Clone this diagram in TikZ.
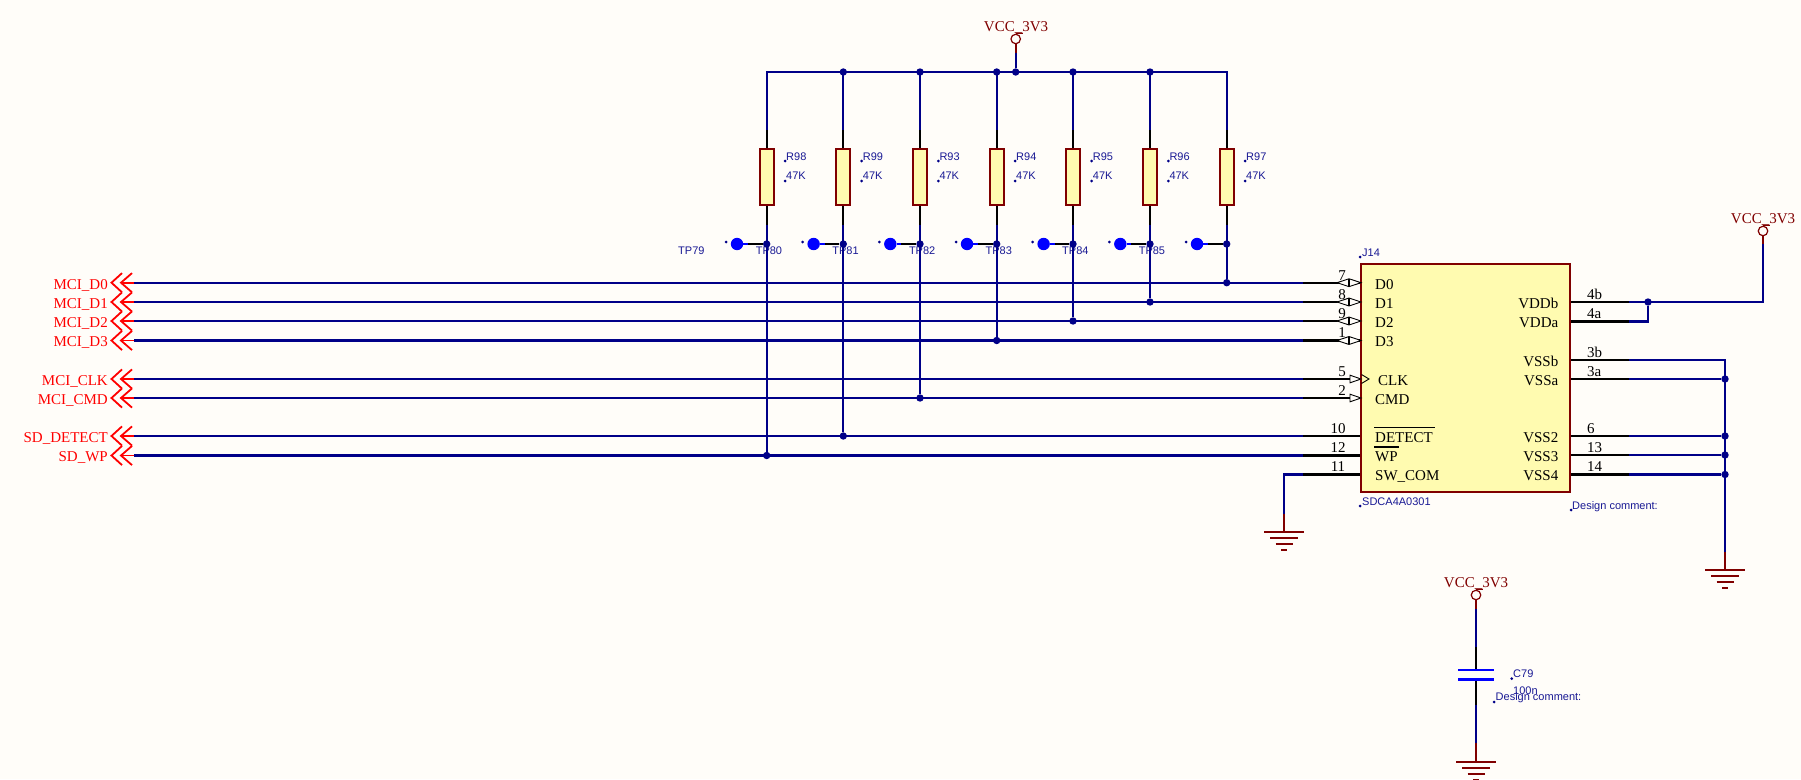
\documentclass[tikz,border=0pt]{standalone}
\usepackage{fontspec}
\setmainfont{Liberation Serif}
\newfontfamily\lblfont{Liberation Sans}
\definecolor{bgc}{HTML}{FFFDF9}
\definecolor{wirec}{HTML}{000088}
\definecolor{darkred}{HTML}{800000}
\definecolor{bodyc}{HTML}{FFFBB0}
\definecolor{brightb}{HTML}{0000FF}
\tikzset{
  wire/.style={draw=wirec,line width=2.2pt,line cap=butt,line join=miter},
  lead/.style={draw=black,line width=2.1pt},
  redlead/.style={draw=darkred,line width=2.1pt},
  junction/.style={circle,fill=wirec,draw=none,minimum size=7.4pt,inner sep=0pt},
  resbody/.style={draw=darkred,fill=bodyc,line width=2pt,minimum width=14.2pt,minimum height=56pt,inner sep=0pt},
  chip/.style={draw=darkred,fill=bodyc,line width=2.1pt,minimum width=209pt,minimum height=228pt,inner sep=0pt},
  sertxt/.style={font=\fontsize{15}{15}\selectfont,inner sep=0pt},
  pintxt/.style={sertxt,anchor=base west},
  pinnum/.style={sertxt,anchor=base},
  rpinnum/.style={sertxt,anchor=base west},
  pintxtr/.style={sertxt,anchor=base east},
  netport/.style={sertxt,text=red,anchor=base east},
  vcctxt/.style={sertxt,text=darkred,anchor=base},
  lbl/.style={font=\lblfont\fontsize{11}{11}\selectfont,text=wirec!90!white,inner sep=0pt,anchor=base west},
  ldot/.style={circle,fill=wirec,draw=none,minimum size=3pt,inner sep=0pt},
  tpdot/.style={circle,fill=brightb,draw=none,minimum size=12.4pt,inner sep=0pt},
  pinarrow/.style={draw=black,fill=bgc,line width=0.9pt,line join=miter},
  vccring/.style={circle,draw=darkred,line width=1.2pt,minimum size=9.5pt,inner sep=0pt},
  gndline/.style={draw=darkred,line width=2pt},
  plate/.style={draw=brightb,line width=2.2pt}
}
\newcommand{\gndsym}[1]{%
  \draw[gndline] ([xshift=-20pt]#1) -- ([xshift=20pt]#1);
  \draw[gndline] ([xshift=-14pt,yshift=-6pt]#1) -- ([xshift=14pt,yshift=-6pt]#1);
  \draw[gndline] ([xshift=-8.5pt,yshift=-12pt]#1) -- ([xshift=8.5pt,yshift=-12pt]#1);
  \draw[gndline] ([xshift=-2.7pt,yshift=-17.5pt]#1) -- ([xshift=2.7pt,yshift=-17.5pt]#1);
}
\begin{document}
\begin{tikzpicture}[x=1pt,y=-1pt]
\useasboundingbox (0,0) rectangle (1801,779);
\fill[bgc] (0,0) rectangle (1801,779);
\clip (0,0) rectangle (1801,779);

% test point labels lie below the wires
\foreach \n/\x in {79/678,80/755.6,81/832.2,82/908.8,83/985.4,84/1062,85/1138.6}
  \node[lbl] (tplabel\n) at (\x,254) {TP\n};

% rail
\coordinate (railL) at (766.7,72);
\coordinate (railR) at (1226.7,72);
\draw[wire] (766.7,130) -- (railL) -- (railR) -- (1226.7,130);

% VCC top
\node[vcctxt] (vcctop) at (1016,31) {VCC\_3V3};
\node[vccring] (ringtop) at (1015.7,39) {};
\coordinate (vtopred) at (1015.7,53);
\node[junction] (jtop) at (1015.7,72) {};
\draw[redlead] (ringtop.south) -- (vtopred);
\draw[wire] (vtopred) -- (jtop);
\draw[darkred,line width=1.1pt] (ringtop.north) -- ++(7,0);

% signal wires and their ports
\foreach \n/\y/\t/\r in {D0/282.7/MCI\_D0/289.2,D1/302/MCI\_D1/308.2,D2/321/MCI\_D2/327.2,D3/340.5/MCI\_D3/346.7,CLK/379/MCI\_CLK/385.2,CMD/398/MCI\_CMD/404.2,DET/436/SD\_DETECT/442.2,WP/455.5/SD\_WP/461.7}{
  \node[netport] (port\n) at (108,\r) {\t};
  \coordinate (tip\n) at (121,\y);
  \coordinate (sig\n) at (134,\y);
  \coordinate (stub\n) at (1303,\y);
  \coordinate (pin\n) at (1361,\y);
  \draw[wire] (sig\n) -- (stub\n);
  \draw[lead] (stub\n) -- (pin\n);
  \draw[red,line width=1.8pt] (tip\n) -- (sig\n);
  \draw[red,line width=1.8pt,line join=miter] (122,\y-9.6) -- (111.5,\y) -- (122,\y+9.6);
  \draw[red,line width=1.8pt,line join=miter] (132,\y-9.6) -- (tip\n) -- (132,\y+9.6);
}

% resistors with test points
\foreach \r/\x/\sy/\tx/\lo in {98/766.7/455.5/737/785,99/843.3/436/813.6/861.7,93/920/398/890.3/938.3,94/996.7/340.5/967/1015,95/1073/321/1043.6/1091.7,96/1150/302/1120.3/1168.3,97/1226.7/282.7/1197/1245}{
  \coordinate (rtop\r) at (\x,130);
  \coordinate (rbot\r) at (\x,225);
  \node[resbody] (res\r) at (\x,176.8) {};
  \node[junction] (jtp\r) at (\x,244) {};
  \node[junction] (jsig\r) at (\x,\sy) {};
  \draw[wire] (\x,72) -- (rtop\r);
  \draw[lead] (rtop\r) -- (res\r.north);
  \draw[lead] (res\r.south) -- (rbot\r);
  \draw[wire] (rbot\r) -- (jsig\r);
  \node[tpdot] (tp\r) at (\tx,244) {};
  \node[ldot] (tpd\r) at (\tx-11,242) {};
  \coordinate (tpst\r) at (\tx+11,244);
  \draw[brightb,line width=2pt] (tp\r) -- (tpst\r);
  \draw[lead] (tpst\r) -- (jtp\r);
  \node[ldot] (rdA\r) at (\lo,161) {};
  \node[ldot] (rdB\r) at (\lo,181) {};
  \node[lbl] (rname\r) at (\lo+1,160.7) {R\r};
  \node[lbl] (rval\r) at (\lo+1,179.7) {47K};
}
\foreach \r/\x in {99/843.3,93/920,94/996.7,95/1073,96/1150}
  \node[junction] (jrail\r) at (\x,72) {};

% connector J14
\node[chip] (J14) at (1465.5,378) {};
\node[ldot] (dJ) at (1360,257) {};
\node[lbl] (nJ) at (1362,256) {J14};
\node[ldot] (dS) at (1360,506) {};
\node[lbl] (nS) at (1362,505) {SDCA4A0301};
\node[ldot] (dC) at (1571,510) {};
\node[lbl] (nC) at (1572,509) {Design comment:};

% bidirectional pin markers
\foreach \n/\y in {D0/282.7,D1/302,D2/321,D3/340.5}{
  \draw[pinarrow] (1349.5,\y-3.8) -- (pin\n) -- (1349.5,\y+3.8) -- cycle;
  \draw[pinarrow] (1348.5,\y-3.8) -- (1337,\y) -- (1348.5,\y+3.8) -- cycle;
}
\foreach \n/\y in {CLK/379,CMD/398}
  \draw[pinarrow] (1350,\y-3.8) -- (pin\n) -- (1350,\y+3.8) -- cycle;
\draw[black,line width=0.9pt,line join=miter] (1361.5,374.5) -- (1369,379) -- (1361.5,383.5);

% pin numbers and names, left
\foreach \t/\x/\y in {7/1342/280,8/1342/299,9/1342/318,1/1342/337.5,5/1342/376,2/1342/395,10/1338/433,12/1338/452.5,11/1338/471.5}
  \node[pinnum] (num\t) at (\x,\y) {\t};
\foreach \t/\x/\y in {D0/1375/289.2,D1/1375/308.2,D2/1375/327.2,D3/1375/346.7,CLK/1378/385.2,CMD/1375/404.2,DETECT/1375/442.2,WP/1375/461.7,SW\_COM/1375/480.7}
  \node[pintxt] at (\x,\y) {\t};
\draw[black,line width=1.4pt] (1374,427.7) -- (1435,427.7);
\draw[black,line width=1.4pt] (1374,447) -- (1399,447);

% SW_COM pin to ground
\coordinate (stubSW) at (1303,474.5);
\coordinate (cornerSW) at (1284,474.5);
\coordinate (gndLred) at (1284,514);
\coordinate (gndL) at (1284,532);
\draw[lead] (J14.west |- stubSW) -- (stubSW);
\draw[wire] (stubSW) -- (cornerSW) -- (gndLred);
\draw[redlead] (gndLred) -- (gndL);
\gndsym{gndL}

% right pins
\foreach \c/\y in {Vb/302,Va/321.5,Sb/360,Sa/379,S2/436,S3/455,S4/474.5}{
  \coordinate (rstub\c) at (1629,\y);
  \draw[lead] (J14.east |- rstub\c) -- (rstub\c);
}
\foreach \t/\y in {4b/299,4a/318.5,3b/357,3a/376,6/433,13/452,14/471.5}
  \node[rpinnum] (rnum\t) at (1587,\y) {\t};
\foreach \t/\y in {VDDb/308.2,VDDa/327.7,VSSb/366.2,VSSa/385.2,VSS2/442.2,VSS3/461.2,VSS4/480.7}
  \node[pintxtr] at (1558.5,\y) {\t};

% power net
\node[junction] (jV) at (1648,302) {};
\coordinate (vcR) at (1763,302);
\coordinate (vcRred) at (1763,244);
\draw[wire] (rstubVb) -- (vcR) -- (vcRred);
\draw[wire] (rstubVa) -- (1648,321.5) -- (jV);
\node[vccring] (ringR) at (1763,231) {};
\draw[redlead] (ringR.south) -- (vcRred);
\draw[darkred,line width=1.1pt] (ringR.north) -- ++(7,0);
\node[vcctxt] (vccR) at (1763,223) {VCC\_3V3};

% ground net
\coordinate (gndRtop) at (1725,360);
\coordinate (gndRred) at (1725,552);
\coordinate (gndR) at (1725,570);
\draw[wire] (rstubSb) -- (gndRtop) -- (gndRred);
\draw[redlead] (gndRred) -- (gndR);
\gndsym{gndR}
\foreach \c/\y in {Sa/379,S2/436,S3/455,S4/474.5}{
  \node[junction] (jg\c) at (1725,\y) {};
  \draw[wire] (rstub\c) -- (jg\c);
}

% capacitor C79
\node[vcctxt] (vccC) at (1476,587) {VCC\_3V3};
\node[vccring] (ringC) at (1476,595) {};
\draw[darkred,line width=1.1pt] (ringC.north) -- ++(7,0);
\coordinate (cA) at (1476,609);
\coordinate (cB) at (1476,647);
\coordinate (cP1) at (1476,670);
\coordinate (cP2) at (1476,679.5);
\coordinate (cC) at (1476,705);
\coordinate (cD) at (1476,743);
\coordinate (gndC) at (1476,762);
\draw[redlead] (ringC.south) -- (cA);
\draw[wire] (cA) -- (cB);
\draw[lead] (cB) -- (cP1);
\draw[lead] (cP2) -- (cC);
\draw[wire] (cC) -- (cD);
\draw[redlead] (cD) -- (gndC);
\draw[plate] (1458,670) -- (1494,670);
\draw[plate] (1458,679.5) -- (1494,679.5);
\gndsym{gndC}
\node[ldot] (dC79) at (1511.7,678.7) {};
\node[lbl] (nC79) at (1513,677.5) {C79};
\node[lbl] (vC79) at (1513,694.5) {100n};
\node[ldot] (dCc) at (1494,702) {};
\node[lbl] (cC79) at (1495.5,700.5) {Design comment:};
\end{tikzpicture}
\end{document}
